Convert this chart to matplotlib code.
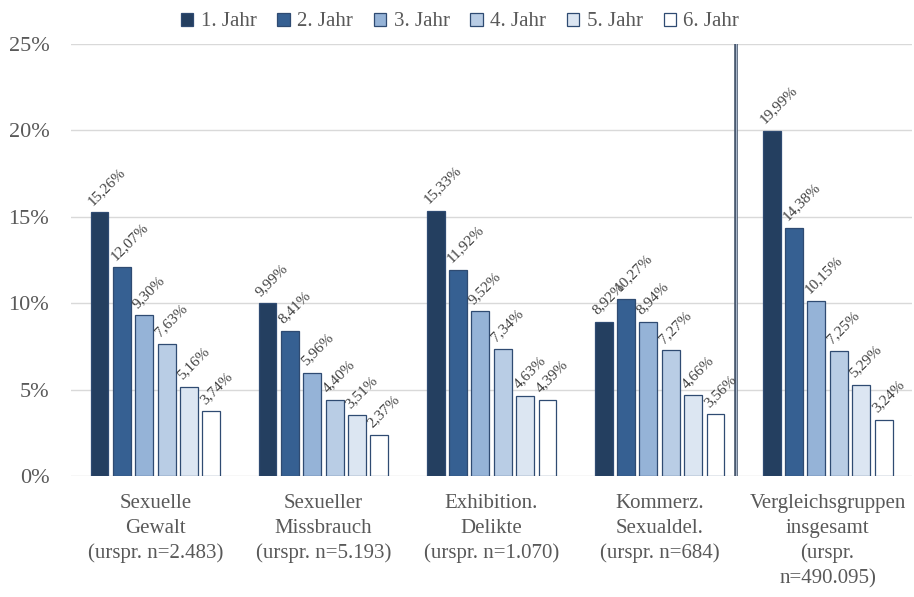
import matplotlib
matplotlib.use('Agg')
import matplotlib.pyplot as plt
import numpy as np

# Daten
kategorien = ['Sexuelle\nGewalt\n(urspr. n=2.483)',
              'Sexueller\nMissbrauch\n(urspr. n=5.193)',
              'Exhibition.\nDelikte\n(urspr. n=1.070)',
              'Kommerz.\nSexualdel.\n(urspr. n=684)',
              'Vergleichsgruppen\ninsgesamt\n(urspr.\nn=490.095)']
jahre = ['1. Jahr', '2. Jahr', '3. Jahr', '4. Jahr', '5. Jahr', '6. Jahr']
jahr1 = [15.26, 9.99, 15.33, 8.92, 19.99]
jahr2 = [12.07, 8.41, 11.92, 10.27, 14.38]
jahr3 = [9.30, 5.96, 9.52, 8.94, 10.15]
jahr4 = [7.63, 4.40, 7.34, 7.27, 7.25]
jahr5 = [5.16, 3.51, 4.63, 4.66, 5.29]
jahr6 = [3.74, 2.37, 4.39, 3.56, 3.24]
werte = [jahr1, jahr2, jahr3, jahr4, jahr5, jahr6]
y_ticks = [0, 5, 10, 15, 20, 25]

farben = ['#243F60', '#366092', '#95B3D7', '#B9CDE5', '#DCE6F2', '#FFFFFF']
textfarbe = '#595959'

plt.rcParams['font.family'] = ['Liberation Serif', 'DejaVu Serif']

fig = plt.figure(figsize=(9.14, 5.97), dpi=100)
ax = fig.add_axes([0.0782, 0.2027, 0.9191, 0.7236])

x = np.arange(len(kategorien))
abstand = 0.1333
breite = 0.107
for i, (name, serie) in enumerate(zip(jahre, werte)):
    pos = x + (i - 2.5) * abstand
    bars = ax.bar(pos, serie, width=breite, color=farben[i], edgecolor='#2F4B72',
                  linewidth=0.9, label=name, zorder=3)
    for b, v in zip(bars, serie):
        ax.annotate(f'{v:.2f}'.replace('.', ',') + '%',
                    xy=(b.get_x(), b.get_height()), xytext=(1.5, 5),
                    textcoords='offset points', rotation=45,
                    rotation_mode='anchor', ha='left', va='baseline',
                    fontsize=11, color='#404040', zorder=6)

# Trennlinie vor Vergleichsgruppen
ax.axvline(3.455, color='#44546A', linewidth=2.6, zorder=4)
ax.axvline(3.455, color='#A6B4C8', linewidth=0.8, zorder=5)

ax.set_xlim(-0.5, 4.5)
ax.set_ylim(0, 25)
ax.set_yticks(y_ticks)
ax.set_yticklabels([f'{t}%' for t in y_ticks], fontsize=16, color=textfarbe)
ax.set_xticks(x)
ax.set_xticklabels(kategorien, fontsize=15, color=textfarbe, linespacing=1.4)
ax.tick_params(length=0)
ax.tick_params(axis='y', pad=16)
ax.tick_params(axis='x', pad=13)
ax.grid(axis='y', color='#D9D9D9', linewidth=1, zorder=0)
for s in ax.spines.values():
    s.set_visible(False)

leg = ax.legend(loc='lower center', bbox_to_anchor=(0.4625, 1.0), ncol=6,
                frameon=False, fontsize=15, handlelength=0.6, handleheight=0.6,
                handletextpad=0.35, columnspacing=1.0, borderaxespad=0.2)
for t in leg.get_texts():
    t.set_color(textfarbe)

plt.savefig('out.png', dpi=100)
plt.close()
